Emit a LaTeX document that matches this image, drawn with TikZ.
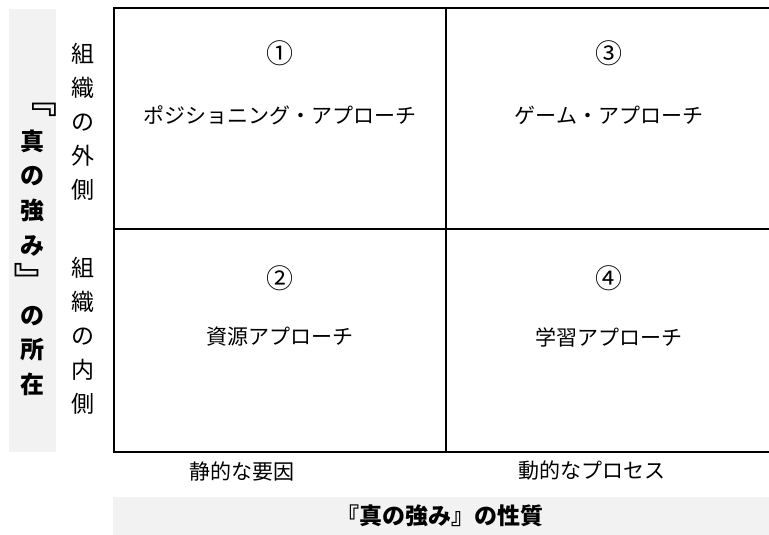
\documentclass[tikz,border=0pt]{standalone}
\usepackage{fontspec}
\setmainfont{Noto Sans CJK JP}
\newcommand{\vbrl}{\makebox[0pt]{\hspace*{18pt}\scalebox{1.5}{\rotatebox[origin=c]{-90}{『}}}}
\newcommand{\vbrr}{\makebox[0pt]{\scalebox{1.5}{\rotatebox[origin=c]{-90}{』}}\hspace*{10pt}}}
\begin{document}
\begin{tikzpicture}[x=1pt,y=-1pt,
  greybox/.style={fill=black!5,draw=none},
  gridline/.style={line width=2pt,black},
  celltext/.style={inner sep=0pt,font=\fontsize{21}{25}\selectfont},
  numtext/.style={inner sep=0pt,font=\fontsize{27}{30}\selectfont},
  sidelabel/.style={inner sep=0pt,align=center,font=\fontsize{23}{34}\selectfont},
  biglabel/.style={inner sep=0pt,align=center,font=\fontsize{24}{34.8}\selectfont\bfseries}]
\useasboundingbox (0,0) rectangle (769,535);
% grey boxes
\fill[greybox] (9,9) rectangle (56,452);
\fill[greybox] (113,497) rectangle (769,535);
% grid
\coordinate (tl) at (114,8);
\coordinate (tr) at (769,8);
\coordinate (bl) at (114,452);
\coordinate (br) at (769,452);
\draw[gridline] (tr) -- (tl) -- (bl) -- (br);
\draw[gridline] (114,229) -- (769,229);
\draw[gridline] (446,8) -- (446,452);
% cell texts
\node[numtext] (n1) at (280,53) {①};
\node[celltext] (t1) at (280,115) {ポジショニング・アプローチ};
\node[numtext] (n3) at (609,53) {③};
\node[celltext] (t3) at (609,115) {ゲーム・アプローチ};
\node[numtext] (n2) at (280,278) {②};
\node[celltext] (t2) at (280,337) {資源アプローチ};
\node[numtext] (n4) at (609,278) {④};
\node[celltext] (t4) at (609,337) {学習アプローチ};
% side labels
\node[sidelabel] (outer) at (83,122) {組\\織\\の\\外\\側};
\node[sidelabel] (inner) at (83,336) {組\\織\\の\\内\\側};
\node[biglabel] (loc) at (32,239) {\vbrl\\真\\の\\強\\み\\\vbrr\\の\\所\\在};
% bottom labels
\node[celltext] (static) at (242,471) {静的な要因};
\node[celltext] (dynamic) at (592,471) {動的なプロセス};
\node[celltext,font=\fontsize{23}{25}\selectfont\bfseries] (nature) at (440,516) {『真の強み』の性質};
\end{tikzpicture}
\end{document}
